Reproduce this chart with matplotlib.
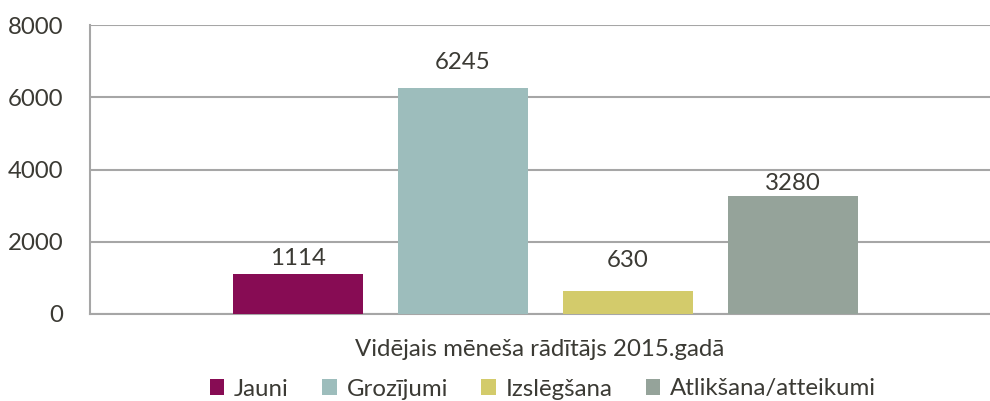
from matplotlib import pyplot as plt
import numpy as np

plt.rcParams['font.family'] = ['Lato', 'DejaVu Sans']

# data
series = ['Jauni', 'Grozījumi', 'Izslēgšana', 'Atlikšana/atteikumi']
values = [1114, 6245, 630, 3280]
category = 'Vidējais mēneša rādītājs 2015.gadā'
yticks = [0, 2000, 4000, 6000, 8000]

colors = ['#870c54', '#9dbdbc', '#d3cb6b', '#95a39a']
label_offsets = [11, 19, 22, 9]   # points, Excel puts the labels a bit unevenly
txt = '#3b3a34'
grid = '#a6a6a6'
fs = 17.3

fig = plt.figure(figsize=(9.9, 4.01), dpi=100)
ax = fig.add_axes([90 / 990, 1 - 314 / 401, 900 / 990, 289 / 401])

width = 130 / 900
step = 165 / 900
pos = (np.arange(len(values)) - 1.5) * step

bars = ax.bar(pos, values, width, color=colors, label=series, zorder=3)
for b, v, off in zip(bars, values, label_offsets):
    ax.annotate(str(v), (b.get_x() + b.get_width() / 2, v),
                xytext=(0, off), textcoords='offset points',
                ha='center', va='center', fontsize=fs, color=txt)

ax.set_xlim(-(545.5 - 90) / 900, (990 - 545.5) / 900)
ax.set_ylim(0, 8000)
ax.set_yticks(yticks)
ax.set_yticklabels([str(t) for t in yticks])
ax.set_xticks([])
ax.tick_params(axis='y', length=0, pad=19, labelsize=fs, labelcolor=txt)
ax.yaxis.grid(True, color=grid, linewidth=1.5, zorder=0)
ax.set_axisbelow(True)

for s in ['top', 'right']:
    ax.spines[s].set_visible(False)
for s in ['left', 'bottom']:
    ax.spines[s].set_color(grid)
    ax.spines[s].set_linewidth(1.5)

ax.set_xlabel(category, fontsize=fs, color=txt, labelpad=18)

fig.legend(loc='center', bbox_to_anchor=(543 / 990, 1 - 389 / 401), ncol=4,
           frameon=False, fontsize=fs, labelcolor=txt,
           handlelength=0.6, handleheight=0.6, handletextpad=0.4,
           columnspacing=1.4)

fig.savefig('out.png', dpi=100)
